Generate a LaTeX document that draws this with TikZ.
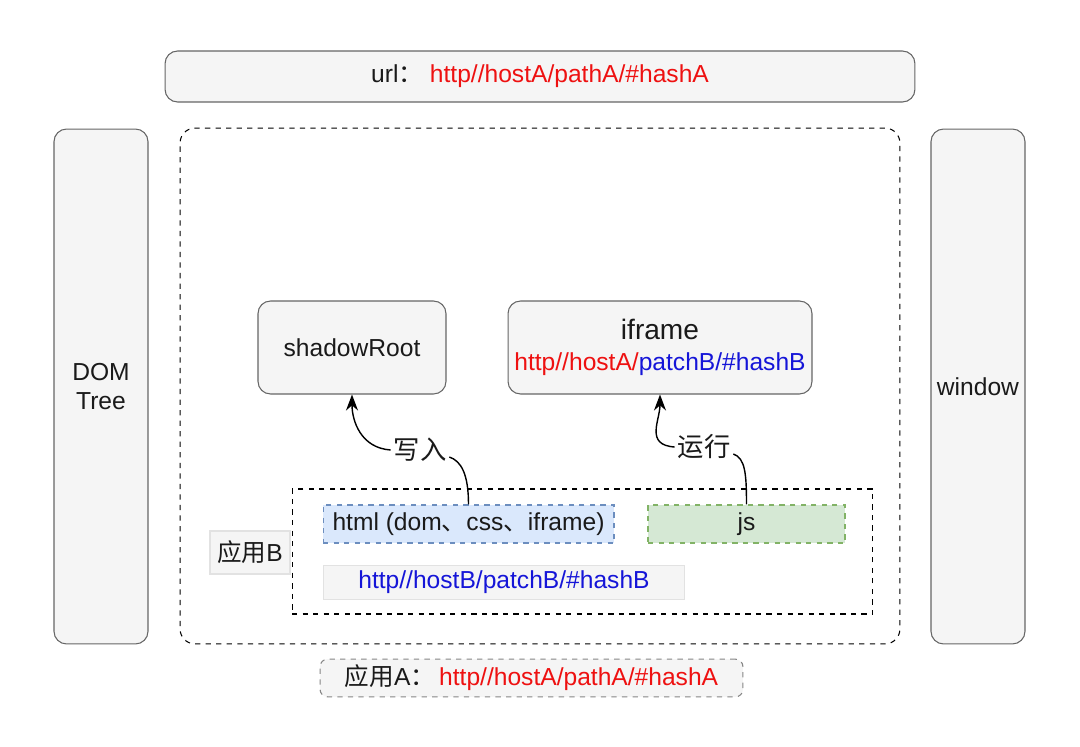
\documentclass[tikz,border=0pt]{standalone}
\usepackage{fontspec}
\setmainfont{Liberation Sans}
\newfontfamily\cjk{Noto Sans CJK SC}
\usepackage{tikz}
\usetikzlibrary{
  arrows.meta,
  positioning
}
\definecolor{boxfill}{HTML}{F5F5F5}
\definecolor{boxline}{HTML}{666666}
\definecolor{paleline}{HTML}{E2E2E2}
\definecolor{urlred}{HTML}{EE1111}
\definecolor{urlblue}{HTML}{1515D8}
\definecolor{htmlfill}{HTML}{DAE8FC}
\definecolor{htmlline}{HTML}{6C8EBF}
\definecolor{jsfill}{HTML}{D5E8D4}
\definecolor{jsline}{HTML}{82B366}
\definecolor{ink}{HTML}{1A1A1A}

\begin{document}
\begin{tikzpicture}[
      x=0.02cm, y=-0.02cm,
      panel/.style={
         rectangle,
         rounded corners=2.5mm,
         draw=boxline,
         fill=boxfill,
         line width=0.6pt,
         text=ink,
         font=\fontsize{14}{17}\selectfont,
         align=center
      },
      region/.style={
         rectangle,
         draw=black,
         dashed,
         line width=0.6pt
      },
      codebox/.style={
         rectangle,
         dashed,
         line width=0.6pt,
         minimum height=0.76cm,
         text=ink,
         font=\fontsize{14}{17}\selectfont
      },
      tag/.style={
         rectangle,
         draw=paleline,
         fill=boxfill,
         line width=0.6pt,
         text=ink,
         font=\fontsize{14}{17}\selectfont
      },
      lbl/.style={
         inner sep=1.5pt,
         text=ink,
         font=\cjk\fontsize{15}{18}\selectfont
      },
      link/.style={line width=0.8pt,draw=black},
      tip/.style={link,-{Stealth[length=3.2mm,width=2.4mm]}}
    ]
    \useasboundingbox (0,0) rectangle (1080,747);

    % outer frame of app A
    \node (appAframe) [region, rounded corners=3mm, minimum width=14.4cm, minimum height=10.32cm] at (540,386) {};

    \node (url) [panel, minimum width=15cm, minimum height=1.02cm] at (540,76.5)
       {url{\cjk ：}\ \textcolor{urlred}{http//hostA/pathA/\#hashA}};
    \node (dom) [panel, minimum width=1.88cm, minimum height=10.3cm] at (101,386.5) {DOM\\Tree};
    \node (win) [panel, minimum width=1.88cm, minimum height=10.3cm] at (978,386.5) {window};

    \node (shadow) [panel, minimum width=3.76cm, minimum height=1.86cm] at (352,347.5) {shadowRoot};
    \node (iframe) [panel, minimum width=6.08cm, minimum height=1.86cm] at (660,347.5)
       {{\fontsize{16}{19}\selectfont iframe}\\[1pt]
        \textcolor{urlred}{http//hostA/}\textcolor{urlblue}{patchB/\#hashB}};

    % app B
    \node (appBframe) [region, minimum width=11.62cm, minimum height=2.5cm] at (582.5,551.5) {};
    \node (html) [codebox, draw=htmlline, fill=htmlfill, minimum width=5.82cm] at (468.5,524)
       {html (dom{\cjk 、}css{\cjk 、}iframe)};
    \node (js) [codebox, draw=jsline, fill=jsfill, minimum width=3.94cm] at (746.5,524) {js};
    \node (appB) [tag, minimum width=1.6cm, minimum height=0.86cm] at (250,552.5) {{\cjk 应用}B};
    \node (hostB) [tag, minimum width=7.24cm, minimum height=0.62cm] at (504,582.5)
       {\textcolor{urlblue}{http//hostB/patchB/\#hashB}};

    \node (appA) [panel, dashed, rounded corners=1.5mm, draw=boxline!80, minimum width=8.46cm, minimum height=0.72cm] at (531.5,678)
       {{\cjk 应用}A{\cjk ：}\,\textcolor{urlred}{http//hostA/pathA/\#hashA}};

    % write / run
    \node (write) [lbl] at (420,450) {写入};
    \node (run) [lbl] at (704,447) {运行};
    \draw [link] (html.north) .. controls +(0,-30) and +(12,4) .. ([yshift=-0.14cm]write.east);
    \draw [tip] (write.west) .. controls +(-30,-2) and +(0,26) .. (shadow.south);
    \draw [link] (js.north) .. controls +(0,-30) and +(12,4) .. ([yshift=-0.14cm]run.east);
    \draw [tip] (run.west) .. controls +(-30,-2) and +(0,26) .. (iframe.south);
\end{tikzpicture}
\end{document}
